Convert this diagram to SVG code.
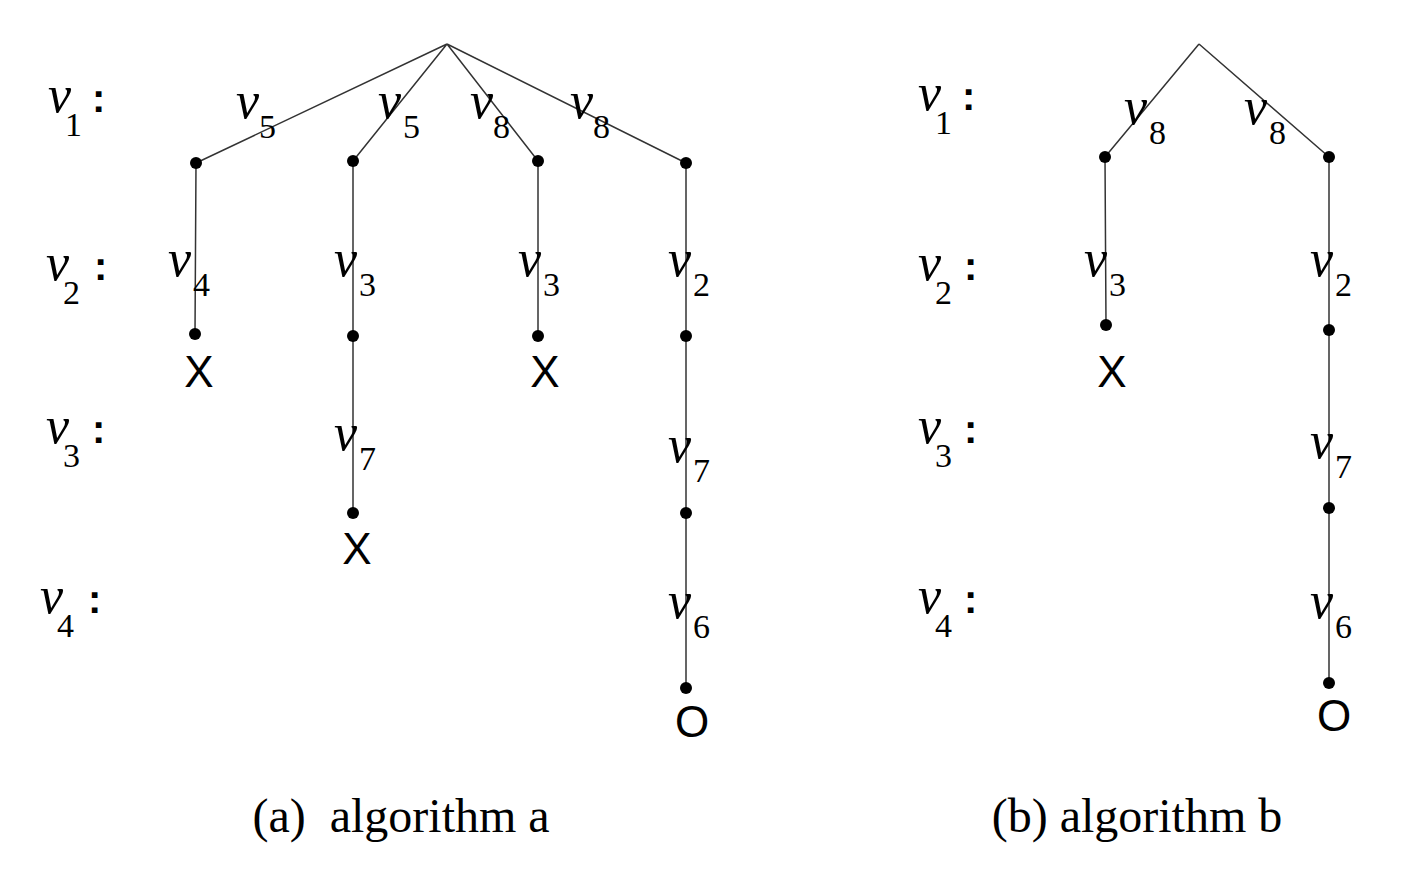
<svg xmlns="http://www.w3.org/2000/svg" width="1401" height="873" viewBox="0 0 1401 873">
<style>
.e{stroke:#333;stroke-width:1.5;fill:none}
.d{fill:#000}
.v{font-family:"Liberation Serif",serif;font-style:italic;font-size:52px}
.s{font-family:"Liberation Serif",serif;font-style:normal;font-size:34px}
.m{font-family:"Liberation Sans",sans-serif;font-size:44px}
.c{font-family:"Liberation Serif",serif;font-size:48px}
.k{font-family:"Liberation Sans",sans-serif;font-weight:bold;font-size:40px}
</style>
<rect width="1401" height="873" fill="#fff"/>
<g id="connectors">
<path class="e" d="M447 44L196 163M447 44L353 161M447 44L538 161M447 44L686 163M196 163L195 334M353 161V513M538 161V336M686 163V688"/>
<path class="e" d="M1199 44L1105 157M1199 44L1329 157M1105 157L1106 325M1329 157V683"/>
</g>
<g id="dots" class="d">
<circle cx="196" cy="163" r="6"/><circle cx="353" cy="161" r="6"/><circle cx="538" cy="161" r="6"/><circle cx="686" cy="163" r="6"/>
<circle cx="195" cy="334" r="6"/><circle cx="353" cy="336" r="6"/><circle cx="538" cy="336" r="6"/><circle cx="686" cy="336" r="6"/>
<circle cx="353" cy="513" r="6"/><circle cx="686" cy="513" r="6"/><circle cx="686" cy="688" r="6"/>
<circle cx="1105" cy="157" r="6"/><circle cx="1329" cy="157" r="6"/><circle cx="1106" cy="325" r="6"/><circle cx="1329" cy="330" r="6"/><circle cx="1329" cy="508" r="6"/><circle cx="1329" cy="683" r="6"/>
</g>
<g id="rowlabels">
<text x="48" y="112" class="v">v<tspan class="s" dx="-6" dy="24">1</tspan></text><text x="92" y="112" class="k">:</text>
<text x="46" y="280" class="v">v<tspan class="s" dx="-6" dy="24">2</tspan></text><text x="94" y="280" class="k">:</text>
<text x="46" y="443" class="v">v<tspan class="s" dx="-6" dy="24">3</tspan></text><text x="92" y="443" class="k">:</text>
<text x="40" y="613" class="v">v<tspan class="s" dx="-6" dy="24">4</tspan></text><text x="88" y="613" class="k">:</text>
<text x="918" y="110" class="v">v<tspan class="s" dx="-6" dy="24">1</tspan></text><text x="962" y="110" class="k">:</text>
<text x="918" y="280" class="v">v<tspan class="s" dx="-6" dy="24">2</tspan></text><text x="964" y="280" class="k">:</text>
<text x="918" y="443" class="v">v<tspan class="s" dx="-6" dy="24">3</tspan></text><text x="964" y="443" class="k">:</text>
<text x="918" y="613" class="v">v<tspan class="s" dx="-6" dy="24">4</tspan></text><text x="964" y="613" class="k">:</text>
</g>
<g id="edgelabels">
<text x="236" y="118" class="v">v<tspan class="s" dx="0" dy="20">5</tspan></text>
<text x="378" y="118" class="v">v<tspan class="s" dx="2" dy="20">5</tspan></text>
<text x="470" y="118" class="v">v<tspan class="s" dx="0" dy="20">8</tspan></text>
<text x="570" y="118" class="v">v<tspan class="s" dx="0" dy="20">8</tspan></text>
<text x="168" y="276" class="v">v<tspan class="s" dx="2" dy="20">4</tspan></text>
<text x="334" y="276" class="v">v<tspan class="s" dx="2" dy="20">3</tspan></text>
<text x="518" y="276" class="v">v<tspan class="s" dx="2" dy="20">3</tspan></text>
<text x="668" y="276" class="v">v<tspan class="s" dx="2" dy="20">2</tspan></text>
<text x="334" y="450" class="v">v<tspan class="s" dx="2" dy="20">7</tspan></text>
<text x="668" y="462" class="v">v<tspan class="s" dx="2" dy="20">7</tspan></text>
<text x="668" y="618" class="v">v<tspan class="s" dx="2" dy="20">6</tspan></text>
<text x="1124" y="124" class="v">v<tspan class="s" dx="2" dy="20">8</tspan></text>
<text x="1244" y="124" class="v">v<tspan class="s" dx="2" dy="20">8</tspan></text>
<text x="1084" y="276" class="v">v<tspan class="s" dx="2" dy="20">3</tspan></text>
<text x="1310" y="276" class="v">v<tspan class="s" dx="2" dy="20">2</tspan></text>
<text x="1310" y="458" class="v">v<tspan class="s" dx="2" dy="20">7</tspan></text>
<text x="1310" y="618" class="v">v<tspan class="s" dx="2" dy="20">6</tspan></text>
</g>
<g id="marks" class="m" text-anchor="middle">
<text x="199" y="387">X</text><text x="545" y="387">X</text><text x="357" y="564">X</text><text x="692" y="737">O</text>
<text x="1112" y="387">X</text><text x="1334" y="731">O</text>
</g>
<g id="captions" class="c" text-anchor="middle">
<text x="401" y="832" xml:space="preserve">(a)  algorithm a</text>
<text x="1137" y="832">(b) algorithm b</text>
</g>
</svg>
